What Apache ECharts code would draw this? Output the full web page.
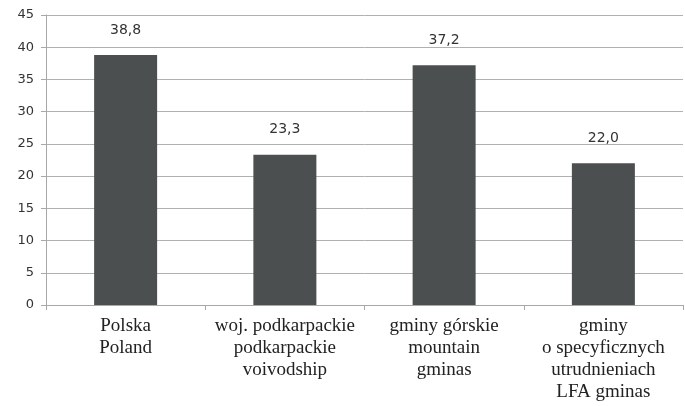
<!DOCTYPE html>
<html><head><meta charset="utf-8">
<script src="https://cdn.jsdelivr.net/npm/echarts@6/dist/echarts.min.js"></script>
<style>html,body{margin:0;padding:0;background:#fff}#c{width:685px;height:406px}</style>
</head><body><div id="c"></div>
<script>
const categories = ["Polska\nPoland", "woj. podkarpackie\npodkarpackie\nvoivodship", "gminy górskie\nmountain\ngminas", "gminy\no specyficznych\nutrudnieniach\nLFA gminas"];
const values = [38.8, 23.3, 37.2, 22.0];
const chart = echarts.init(document.getElementById('c'));
chart.setOption({
  animation: false,
  grid: {left: 46, right: 2, top: 15, bottom: 101},
  xAxis: {
    type: 'category', data: categories,
    axisLine: {lineStyle: {color: '#a8a8a8', width: 1}},
    axisTick: {show: true, length: 5, lineStyle: {color: '#a8a8a8'}},
    axisLabel: {fontFamily: 'Liberation Serif', fontSize: 19, color: '#222', lineHeight: 22, margin: 10, interval: 0}
  },
  yAxis: {
    type: 'value', min: 0, max: 45, interval: 5,
    axisLine: {show: true, lineStyle: {color: '#a8a8a8'}},
    axisTick: {show: true, length: 5, lineStyle: {color: '#a8a8a8'}},
    splitLine: {lineStyle: {color: '#b0b0b0', width: 1}},
    axisLabel: {fontFamily: 'DejaVu Sans', fontSize: 13, color: '#333', margin: 12}
  },
  series: [{
    type: 'bar', data: values, barWidth: 63,
    itemStyle: {color: '#4b4f4f'},
    label: {show: true, position: 'top', distance: 18, fontFamily: 'DejaVu Sans', fontSize: 14, color: '#333',
      formatter: p => p.value.toFixed(1).replace('.', ',')}
  }]
});
</script></body></html>
